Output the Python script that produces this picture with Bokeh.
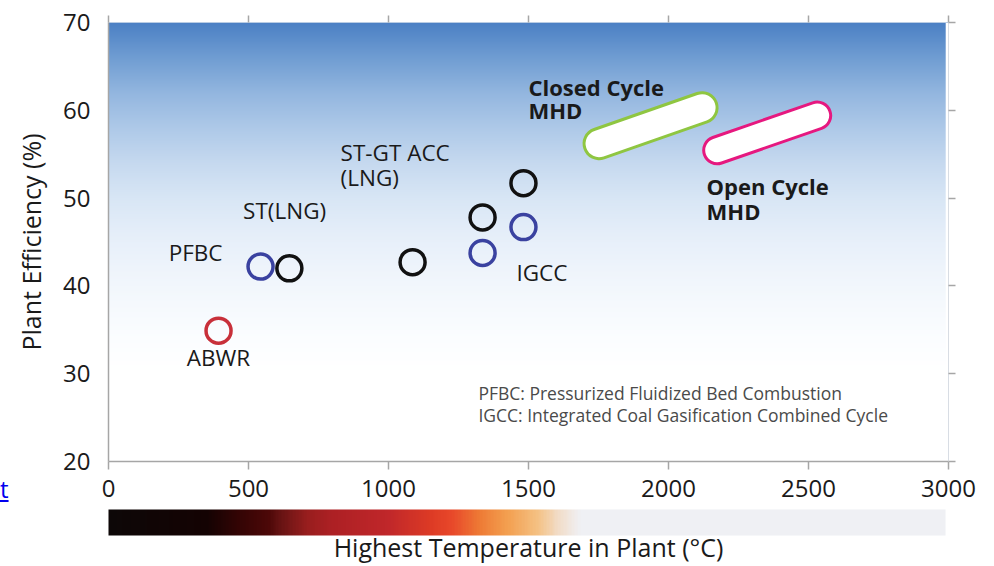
import numpy as np
from bokeh.plotting import figure
from bokeh.layouts import row
from bokeh.models import (LinearAxis, FixedTicker, ColorBar, LinearColorMapper,
                          Range1d, Div)
from bokeh.core.properties import value
from bokeh.embed import file_html
from bokeh.resources import INLINE

# ---------------- data ----------------
black_x = [646, 1086, 1336, 1482]
black_y = [42.0, 42.7, 47.8, 51.7]
blue_x = [543, 1336, 1482]
blue_y = [42.2, 43.75, 46.7]
red_x = [393]
red_y = [34.9]

closed_x = [1752, 2120]
closed_y = [56.2, 60.3]
open_x = [2174, 2531]
open_y = [55.45, 59.4]

label_text = ["ABWR", "PFBC", "ST(LNG)", "ST-GT ACC", "(LNG)", "IGCC"]
label_x = [393, 311, 629, 829, 829, 1457]
label_y = [31.8, 43.75, 48.6, 55.2, 52.3, 41.5]
label_align = ["center", "center", "center", "left", "left", "left"]

bold_text = ["Closed Cycle", "MHD", "Open Cycle", "MHD"]
bold_x = [1500, 1500, 2136, 2136]
bold_y = [62.7, 60.0, 51.4, 48.5]

note_text = ["PFBC: Pressurized Fluidized Bed Combustion",
             "IGCC: Integrated Coal Gasification Combined Cycle"]
note_x = [1321, 1321]
note_y = [27.8, 25.3]

x_ticks = [0, 500, 1000, 1500, 2000, 2500, 3000]
y_ticks = [20, 30, 40, 50, 60, 70]

# temperature colour scale anchors (°C -> colour)
temp_stops = [0, 350, 450, 570, 620, 710, 800, 1000, 1150, 1230, 1330, 1430, 1540, 1610, 1690, 3000]
temp_cols = ["#0d0707", "#140303", "#300404", "#4c0808", "#6a1414", "#981e1e", "#ad2024",
             "#c0272a", "#dc3a25", "#e8482a", "#ee7a35", "#f3a050", "#f4c184", "#f2dcc6",
             "#eff0f4", "#eff0f4"]

# background gradient anchors (efficiency -> colour)
bg_stops = [20, 30, 34, 38, 42, 46, 50, 54, 58, 62, 66, 70]
bg_cols = ["#ffffff", "#ffffff", "#fbfdff", "#f5f9fd", "#eef4fb", "#e5eef9", "#d8e6f5",
           "#c6d9ef", "#aec9e8", "#93b6df", "#709dd2", "#4b80c4"]

FONT = "Open Sans"
TXT = "#1a1a1a"
AX = "#a6a6a6"


def hex2rgb(h):
    h = h.lstrip("#")
    return [int(h[i:i + 2], 16) for i in (0, 2, 4)]


def interp_cols(stops, cols, vals):
    rgb = np.array([hex2rgb(c) for c in cols], dtype=float)
    out = np.zeros((len(vals), 3))
    for k in range(3):
        out[:, k] = np.interp(vals, stops, rgb[:, k])
    return out


# ---------------- figure ----------------
p = figure(width=984, height=566, output_backend="svg", toolbar_location=None,
           x_range=Range1d(0, 3000), y_range=Range1d(20, 70),
           min_border_left=98, min_border_right=46, min_border_top=22, min_border_bottom=104)
p.outline_line_color = None
p.grid.grid_line_color = None
p.background_fill_color = "white"
p.border_fill_color = "white"

# background gradient
N = 440
yy = 20 + (np.arange(N) + 0.5) * 50.0 / N
rgb = interp_cols(bg_stops, bg_cols, yy)
img = np.empty((N, 2), dtype=np.uint32)
view = img.view(dtype=np.uint8).reshape((N, 2, 4))
for c in range(2):
    view[:, c, 0] = rgb[:, 0].round()
    view[:, c, 1] = rgb[:, 1].round()
    view[:, c, 2] = rgb[:, 2].round()
    view[:, c, 3] = 255
p.image_rgba(image=[img], x=0, y=20, dw=2990, dh=50)

# axes
xa = p.xaxis[0]
xa.ticker = FixedTicker(ticks=x_ticks)
xa.axis_line_color = AX
xa.axis_line_width = 1.5
xa.major_tick_line_color = AX
xa.major_tick_line_width = 1.5
xa.major_tick_in = 0
xa.major_tick_out = 8
xa.minor_tick_line_color = None
xa.major_label_standoff = 10
xa.major_label_text_font = FONT
xa.major_label_text_font_size = "24px"
xa.major_label_text_color = TXT

ya = p.yaxis[0]
ya.ticker = FixedTicker(ticks=y_ticks)
ya.axis_line_color = AX
ya.axis_line_width = 1.5
ya.major_tick_line_color = None
ya.major_tick_in = 0
ya.major_tick_out = 0
ya.minor_tick_line_color = None
ya.major_label_standoff = 18
ya.major_label_text_font = FONT
ya.major_label_text_font_size = "24px"
ya.major_label_text_color = TXT
ya.axis_label = "Plant Efficiency (%)"
ya.axis_label_text_font = FONT
ya.axis_label_text_font_size = "25px"
ya.axis_label_text_font_style = "normal"
ya.axis_label_text_color = TXT
ya.axis_label_standoff = 12

# right / top frame axes: tick marks only (minor ticks carry no labels)
ra = LinearAxis(ticker=FixedTicker(ticks=[], minor_ticks=y_ticks), axis_line_color="#d8dde4",
                major_tick_line_color="white", major_tick_in=0, major_tick_out=7,
                minor_tick_line_color=AX, minor_tick_line_width=1.5,
                minor_tick_in=0, minor_tick_out=7)
p.add_layout(ra, "right")
ta = LinearAxis(ticker=FixedTicker(ticks=[], minor_ticks=x_ticks), axis_line_color="#b9cce4",
                major_tick_line_color="white", major_tick_in=0, major_tick_out=7,
                minor_tick_line_color=AX, minor_tick_line_width=1.5,
                minor_tick_in=0, minor_tick_out=7)
p.add_layout(ta, "above")

# spacer between tick labels and colour bar (one white, unlabeled tick)
sp = LinearAxis(ticker=FixedTicker(ticks=[1500]), axis_line_color=None,
                major_tick_line_color="white", major_tick_in=0, major_tick_out=10,
                minor_tick_line_color=None, major_label_text_color=None,
                major_label_standoff=0)
p.add_layout(sp, "below")

# colour bar
tv = np.linspace(0, 3000, 300)
trgb = interp_cols(temp_stops, temp_cols, tv)
pal = ["#%02x%02x%02x" % tuple(int(round(v)) for v in r) for r in trgb]
mapper = LinearColorMapper(palette=pal, low=0, high=3000)
cb = ColorBar(color_mapper=mapper, orientation="horizontal", width=837, height=26,
              padding=0, margin=0, ticker=FixedTicker(ticks=[]),
              major_tick_line_color=None, minor_tick_line_color=None,
              bar_line_color=None, border_line_color=None,
              background_fill_color=None, label_standoff=0,
              location=(0, 0))
p.add_layout(cb, "below")

# axis title under the colour bar
tt = LinearAxis(ticker=FixedTicker(ticks=[]), axis_line_color=None,
                major_tick_line_color=None, major_tick_in=0, major_tick_out=0,
                minor_tick_line_color=None,
                axis_label="Highest Temperature in Plant (°C)",
                axis_label_text_font=FONT, axis_label_text_font_size="25px",
                axis_label_text_font_style="normal", axis_label_text_color=TXT,
                axis_label_standoff=-6)
p.add_layout(tt, "below")

# capsules (MHD ranges)
p.line(closed_x, closed_y, line_width=33, line_color="#8fc641", line_cap="round")
p.line(closed_x, closed_y, line_width=27, line_color="white", line_cap="round")
p.line(open_x, open_y, line_width=30, line_color="#e6187f", line_cap="round")
p.line(open_x, open_y, line_width=24, line_color="white", line_cap="round")

# plant circles
p.scatter(black_x, black_y, marker="circle", size=25, fill_alpha=0,
          line_color="#111111", line_width=3.5)
p.scatter(blue_x, blue_y, marker="circle", size=25, fill_alpha=0,
          line_color="#3a42a0", line_width=3.5)
p.scatter(red_x, red_y, marker="circle", size=25, fill_alpha=0,
          line_color="#c8303a", line_width=3.5)

# labels
p.text(x=label_x, y=label_y, text=label_text, text_align=label_align,
       text_baseline="middle", text_font=value(FONT), text_font_size="22.5px",
       text_color=TXT)
p.text(x=bold_x, y=bold_y, text=bold_text, text_align="left",
       text_baseline="middle", text_font=value(FONT), text_font_size="22px",
       text_font_style="bold", text_color=TXT)
p.text(x=note_x, y=note_y, text=note_text, text_align="left",
       text_baseline="middle", text_font=value(FONT), text_font_size="17.5px",
       text_color="#4a4a4a")

# stray hyperlink fragment at the page's left edge
stray = Div(text="<u>t</u>", width=10, height=566, margin=0,
            styles={"color": "#0000ee", "font-family": "Open Sans", "font-size": "24px",
                    "line-height": "1", "padding-top": "477px", "box-sizing": "border-box"})

layout = row(stray, p, spacing=0)
open("out.html", "w").write(file_html(layout, INLINE))
